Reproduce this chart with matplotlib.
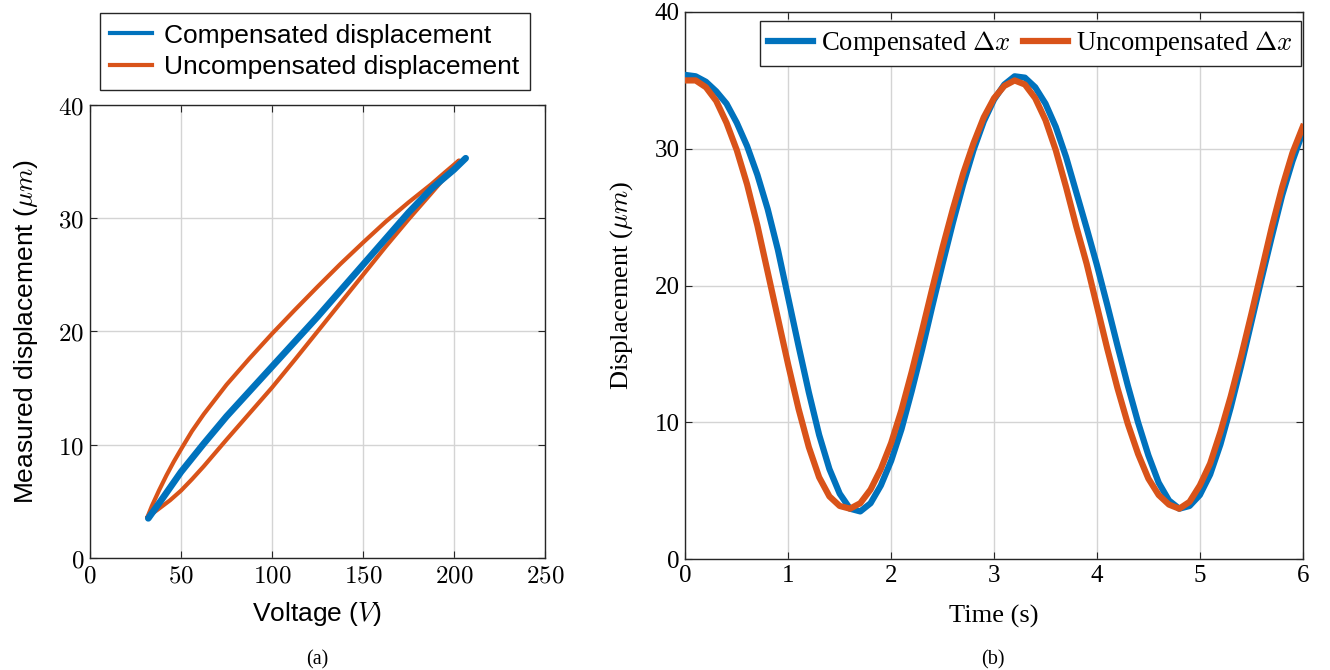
import matplotlib
matplotlib.use("Agg")
import matplotlib.pyplot as plt

plt.rcParams['mathtext.fontset'] = 'cm'

# ---------------- data: (a) hysteresis ----------------
v_uncomp_up = [31.5, 37, 44, 50, 56, 62.5, 75, 87.5, 100, 112.5, 125, 137.5, 150,
               162.5, 175, 187.5, 195, 202.7]
d_uncomp_up = [3.6, 4.25, 5.1, 5.95, 6.95, 8.1, 10.45, 12.75, 15.05, 17.5, 20.0, 22.5,
               25.0, 27.5, 29.9, 32.2, 33.6, 35.1]
v_uncomp_down = [202.7, 195, 187.5, 175, 162.5, 150, 137.5, 125, 112.5, 100, 87.5,
                 75, 62.5, 56, 50, 46, 42, 38, 34, 31.5]
d_uncomp_down = [35.1, 34.05, 33.0, 31.4, 29.7, 27.85, 25.95, 23.95, 21.9, 19.8, 17.6,
                 15.3, 12.7, 11.2, 9.6, 8.5, 7.3, 6.0, 4.6, 3.6]

v_comp = [32, 40, 50, 62.5, 75, 87.5, 100, 112.5, 125, 137.5, 150, 162.5, 175,
          187.5, 200, 206.4]
d_comp = [3.5, 5.3, 7.6, 10.1, 12.5, 14.7, 16.9, 19.1, 21.3, 23.6, 25.9, 28.2, 30.5,
          32.6, 34.3, 35.3]

# ---------------- data: (b) time response ----------------
time_s = [round(0.1 * i, 1) for i in range(61)]
dx_comp = [35.4, 35.3, 34.9, 34.2, 33.3, 31.9, 30.2, 28.1, 25.6, 22.6,
           19.1, 15.6, 12.2, 9.1, 6.6, 4.8, 3.7, 3.5, 4.1, 5.4,
           7.2, 9.5, 12.3, 15.3, 18.5, 21.6, 24.6, 27.4, 29.9, 32.0,
           33.6, 34.7, 35.3, 35.2, 34.5, 33.3, 31.6, 29.4, 26.8, 24.2,
           21.5, 18.6, 15.6, 12.7, 10.0, 7.6, 5.6, 4.3, 3.7, 3.9,
           4.7, 6.2, 8.4, 11.1, 14.1, 17.3, 20.5, 23.6, 26.6, 29.1,
           31.2]
dx_uncomp = [35.0, 35.0, 34.5, 33.5, 31.9, 29.9, 27.4, 24.4, 21.0, 17.6,
             14.2, 11.0, 8.2, 6.0, 4.6, 3.9, 3.7, 4.1, 5.1, 6.6,
             8.5, 10.9, 13.7, 16.7, 19.8, 22.8, 25.6, 28.2, 30.4, 32.3,
             33.7, 34.6, 35.0, 34.7, 33.7, 32.1, 29.9, 27.2, 24.3, 21.6,
             18.5, 15.4, 12.5, 9.9, 7.7, 5.9, 4.7, 4.0, 3.7, 4.2,
             5.4, 7.0, 9.3, 11.9, 14.8, 17.9, 21.1, 24.3, 27.2, 29.7,
             31.6]

BLUE = '#0072BD'
ORANGE = '#D95319'
SPINE = '#262626'
GRID = '#d4d4d4'

fig = plt.figure(figsize=(13.3, 6.7), dpi=100)

# ---------------- (a) ----------------
ax1 = fig.add_axes([0.0677, 0.1672, 0.3421, 0.6761])
ax1.plot(v_uncomp_up + v_uncomp_down[1:], d_uncomp_up + d_uncomp_down[1:],
         color=ORANGE, lw=3.0, solid_capstyle='round', solid_joinstyle='round', zorder=3)
ax1.plot(v_comp, d_comp, color=BLUE, lw=4.8, solid_capstyle='round',
         solid_joinstyle='round', zorder=4)
ax1.set_xlim(0, 250)
ax1.set_ylim(0, 40)
ax1.set_xticks([0, 50, 100, 150, 200, 250])
ax1.set_yticks([0, 10, 20, 30, 40])
ax1.set_xticklabels([f'${v}$' for v in [0, 50, 100, 150, 200, 250]])
ax1.set_yticklabels([f'${v}$' for v in [0, 10, 20, 30, 40]])
ax1.grid(True, color=GRID, lw=1.0)
ax1.set_axisbelow(True)
ax1.tick_params(direction='in', top=True, right=True, labelsize=18,
                length=5, color=SPINE, pad=4)
for s in ax1.spines.values():
    s.set_color(SPINE)
    s.set_linewidth(1.0)
ax1.set_xlabel('Voltage ($V$)', family='Liberation Sans', fontsize=19, labelpad=9)
ax1.set_ylabel('Measured displacement ($\\mu m$)', family='Liberation Sans',
               fontsize=19, labelpad=13)
h1, = ax1.plot([], [], color=BLUE, lw=3.0)
h2, = ax1.plot([], [], color=ORANGE, lw=3.0)
leg1 = ax1.legend([h1, h2], ['Compensated displacement', 'Uncompensated displacement'],
                  loc='lower center', bbox_to_anchor=(0.494, 1.033),
                  prop={'family': 'Liberation Sans', 'size': 19},
                  frameon=True, fancybox=False, edgecolor=SPINE, framealpha=1,
                  handlelength=1.6, handletextpad=0.45, borderpad=0.4,
                  labelspacing=0.3, borderaxespad=0)
leg1.get_frame().set_linewidth(1.0)
fig.text(0.2387, 0.008, '(a)', family='Liberation Serif', fontsize=14.5, ha='center')

# ---------------- (b) ----------------
ax2 = fig.add_axes([0.5153, 0.1652, 0.4642, 0.8169])
ax2.plot(time_s, dx_comp, color=BLUE, lw=4.5, zorder=3, solid_joinstyle='round',
         label='Compensated $\\Delta x$')
ax2.plot(time_s, dx_uncomp, color=ORANGE, lw=4.5, zorder=4, solid_joinstyle='round',
         label='Uncompensated $\\Delta x$')
ax2.set_xlim(0, 6)
ax2.set_ylim(0, 40)
ax2.set_xticks(range(0, 7))
ax2.set_yticks([0, 10, 20, 30, 40])
ax2.grid(True, color=GRID, lw=1.0)
ax2.set_axisbelow(True)
ax2.tick_params(direction='in', top=True, right=True, labelsize=18,
                length=5, color=SPINE, pad=4)
for lab in ax2.get_xticklabels() + ax2.get_yticklabels():
    lab.set_family('Liberation Serif')
for s in ax2.spines.values():
    s.set_color(SPINE)
    s.set_linewidth(1.0)
ax2.set_xlabel('Time (s)', family='Liberation Serif', fontsize=19, labelpad=13)
ax2.set_ylabel('Displacement ($\\mu m$)', family='Liberation Serif', fontsize=19,
               labelpad=14)
leg2 = ax2.legend(loc='upper right', bbox_to_anchor=(0.997, 0.983), ncol=2,
                  prop={'family': 'Liberation Serif', 'size': 19.2},
                  frameon=True, fancybox=False, edgecolor=SPINE, framealpha=1,
                  handlelength=1.7, handletextpad=0.3, columnspacing=0.45,
                  borderpad=0.3, borderaxespad=0)
leg2.get_frame().set_linewidth(1.0)
fig.text(0.7466, 0.008, '(b)', family='Liberation Serif', fontsize=14.5, ha='center')

fig.savefig('out.png', dpi=100)
